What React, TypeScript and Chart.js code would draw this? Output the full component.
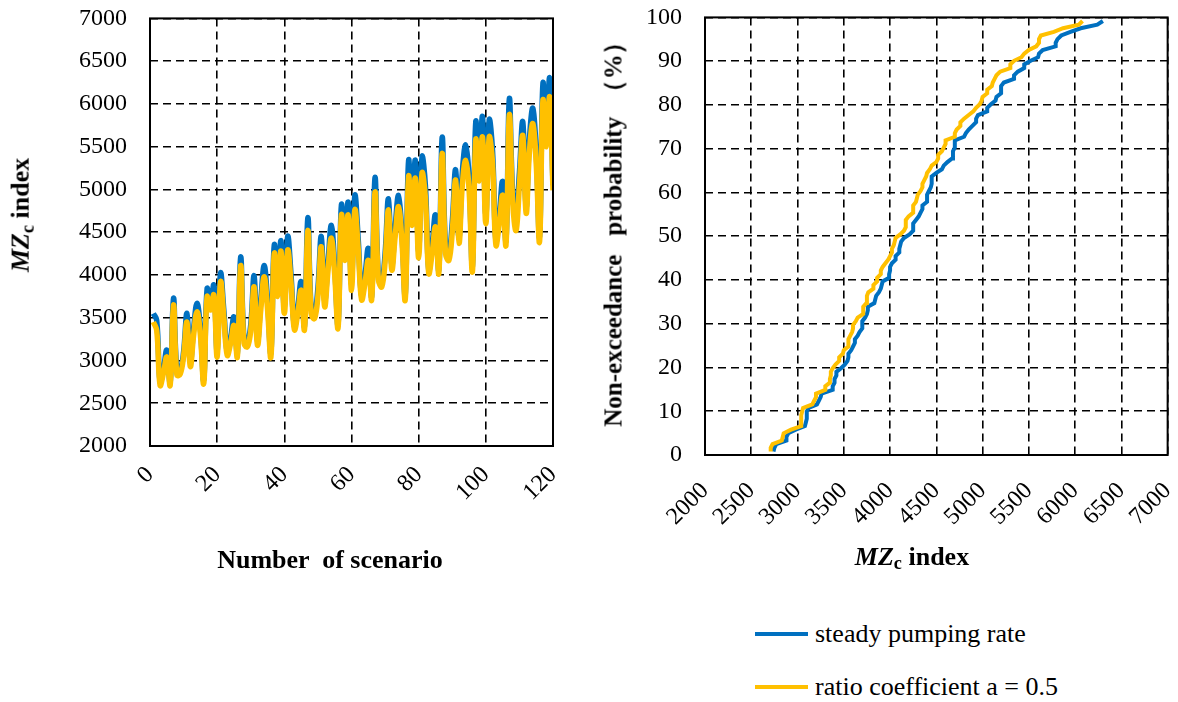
import { useEffect, useRef } from "react";
import { Chart, registerables } from "chart.js";

Chart.register(...registerables);

const BLUE = "#0070C0";
const YELLOW = "#FFC000";
const SERIF = "'Liberation Serif', 'Times New Roman', serif";

// Scenario numbers 1..120
const scenarios: number[] = Array.from({ length: 120 }, (_, i) => i + 1);

// MZc index per scenario, steady pumping rate
const steadyRate: number[] = [
  3550, 3470, 2750, 2900, 3120, 2740, 3730, 2880, 2880, 3100, 3550, 2980, 3380, 3670, 3380, 2770, 3840, 3650, 3880, 3100,
  4020, 3580, 3100, 3260, 3510, 3080, 4210, 3250, 3210, 3420, 3990, 3230, 3700, 4110, 3700, 3090, 4350, 3830, 4400, 3620,
  4450, 4000, 3400, 3620, 3920, 3400, 4670, 3600, 3540, 3850, 4450, 3700, 4150, 4580, 4100, 3420, 4820, 4250, 4850, 3900,
  4930, 4420, 3760, 3990, 4310, 3750, 5140, 4000, 3910, 4250, 4890, 4120, 4560, 4930, 4500, 3760, 5340, 4680, 5340, 4280,
  5380, 5050, 4060, 4350, 4700, 4060, 5610, 4330, 4250, 4620, 5230, 4440, 5200, 5520, 5150, 4100, 5790, 5200, 5850, 4700,
  5810, 5450, 4400, 4700, 5090, 4400, 6060, 4950, 4680, 5200, 5790, 4800, 5600, 5950, 5450, 4450, 6240, 5650, 6300, 5050,
];

// MZc index per scenario, ratio coefficient a = 0.5
const ratioHalf: number[] = [
  3450, 3350, 2710, 2850, 3040, 2710, 3650, 2830, 2840, 3050, 3450, 2930, 3300, 3570, 3300, 2730, 3745, 3590, 3765, 3040,
  3920, 3500, 3060, 3200, 3410, 3040, 4110, 3200, 3160, 3350, 3860, 3180, 3600, 3980, 3600, 3040, 4250, 3750, 4280, 3550,
  4290, 3900, 3360, 3550, 3820, 3360, 4520, 3550, 3490, 3750, 4330, 3630, 4050, 4430, 4000, 3380, 4700, 4170, 4700, 3820,
  4760, 4300, 3710, 3900, 4170, 3710, 4970, 3950, 3860, 4150, 4760, 4060, 4450, 4800, 4400, 3710, 5150, 4580, 5130, 4200,
  5190, 4900, 4020, 4250, 4560, 4020, 5420, 4250, 4170, 4500, 5110, 4370, 5050, 5340, 5000, 4040, 5580, 5100, 5610, 4600,
  5610, 5300, 4350, 4600, 4930, 4350, 5870, 4850, 4520, 5050, 5630, 4720, 5450, 5770, 5300, 4390, 6040, 5500, 6080, 4990,
];

const seriesNames = ["steady pumping rate", "ratio coefficient a = 0.5"];

// Empirical non-exceedance probability (Weibull plotting position)
function exceedanceCurve(values: number[]) {
  const sorted = [...values].sort((a, b) => a - b);
  const n = sorted.length;
  return sorted.map((v, i) => ({ x: v, y: ((i + 1) / (n + 1)) * 100 }));
}

const framePlugin = {
  id: "plotFrame",
  afterDraw(chart: any) {
    const { ctx, chartArea: a } = chart;
    ctx.save();
    ctx.setLineDash([]);
    ctx.strokeStyle = "#000";
    ctx.lineWidth = 2;
    ctx.strokeRect(a.left, a.top, a.right - a.left, a.bottom - a.top);
    ctx.restore();
  },
};

const tickFont = { family: SERIF, size: 24 };

function gridOpts() {
  return {
    color: "#000",
    lineWidth: 1.6,
    drawTicks: false,
    borderDash: [8, 5],
  };
}

function borderOpts() {
  return { display: false, dash: [8, 5] };
}

function ScenarioChart() {
  const ref = useRef<HTMLCanvasElement | null>(null);
  useEffect(() => {
    if (!ref.current) return;
    const chart = new Chart(ref.current, {
      type: "line",
      data: {
        datasets: [
          {
            label: seriesNames[0],
            data: scenarios.map((s, i) => ({ x: s, y: steadyRate[i] })),
            borderColor: BLUE,
            borderWidth: 5.5,
            pointRadius: 0,
            tension: 0.4,
            fill: false,
            order: 1,
          },
          {
            label: seriesNames[1],
            data: scenarios.map((s, i) => ({ x: s, y: ratioHalf[i] })),
            borderColor: YELLOW,
            borderWidth: 5.5,
            pointRadius: 0,
            tension: 0.4,
            fill: false,
            order: 0,
          },
        ],
      },
      options: {
        responsive: false,
        animation: false,
        events: [],
        layout: { padding: { top: 0, right: 37, left: 0, bottom: 0 } },
        plugins: { legend: { display: false }, tooltip: { enabled: false } },
        scales: {
          x: {
            type: "linear",
            min: 0,
            max: 120,
            ticks: {
              stepSize: 20,
              minRotation: 45,
              maxRotation: 45,
              padding: 15,
              color: "#000",
              font: tickFont,
              callback: (v: any) => String(v),
            },
            grid: gridOpts(),
            border: borderOpts(),
            afterFit: (s: any) => {
              s.height = 135;
            },
          },
          y: {
            type: "linear",
            min: 2000,
            max: 7000,
            ticks: {
              stepSize: 500,
              padding: 23,
              color: "#000",
              font: tickFont,
              callback: (v: any) => String(v),
            },
            grid: gridOpts(),
            border: borderOpts(),
            afterFit: (s: any) => {
              s.width = 150;
            },
          },
        },
      } as any,
      plugins: [framePlugin],
    });
    return () => chart.destroy();
  }, []);
  return (
    <canvas
      ref={ref}
      width={590}
      height={600}
      style={{ position: "absolute", left: 0, top: -19, width: 590, height: 600 }}
    />
  );
}

function ProbabilityChart() {
  const ref = useRef<HTMLCanvasElement | null>(null);
  useEffect(() => {
    if (!ref.current) return;
    const chart = new Chart(ref.current, {
      type: "line",
      data: {
        datasets: [
          {
            label: seriesNames[0],
            data: exceedanceCurve(steadyRate),
            borderColor: BLUE,
            borderWidth: 4,
            pointRadius: 0,
            tension: 0,
            fill: false,
            order: 1,
          },
          {
            label: seriesNames[1],
            data: exceedanceCurve(ratioHalf),
            borderColor: YELLOW,
            borderWidth: 4,
            pointRadius: 0,
            tension: 0,
            fill: false,
            order: 0,
          },
        ],
      },
      options: {
        responsive: false,
        animation: false,
        events: [],
        layout: { padding: { top: 0, right: 37, left: 0, bottom: 0 } },
        plugins: { legend: { display: false }, tooltip: { enabled: false } },
        scales: {
          x: {
            type: "linear",
            min: 2000,
            max: 7000,
            ticks: {
              stepSize: 500,
              minRotation: 45,
              maxRotation: 45,
              padding: 22,
              color: "#000",
              font: tickFont,
              callback: (v: any) => String(v),
            },
            grid: gridOpts(),
            border: borderOpts(),
            afterFit: (s: any) => {
              s.height = 125;
            },
          },
          y: {
            type: "linear",
            min: 0,
            max: 100,
            ticks: {
              stepSize: 10,
              padding: 23,
              color: "#000",
              font: tickFont,
              callback: (v: any) => String(v),
            },
            grid: gridOpts(),
            border: borderOpts(),
            afterFit: (s: any) => {
              s.width = 115;
            },
          },
        },
      } as any,
      plugins: [framePlugin],
    });
    return () => chart.destroy();
  }, []);
  return (
    <canvas
      ref={ref}
      width={620}
      height={600}
      style={{ position: "absolute", left: 590, top: -20, width: 620, height: 600 }}
    />
  );
}

const titleStyle: React.CSSProperties = {
  position: "absolute",
  fontFamily: SERIF,
  fontWeight: "bold",
  fontSize: 26,
  color: "#000",
  whiteSpace: "pre",
  lineHeight: 1,
};

function MZcLabel() {
  return (
    <>
      <i>MZ</i>
      <sub style={{ fontSize: "0.7em", verticalAlign: "-0.25em" }}>c</sub> index
    </>
  );
}

export default function App() {
  return (
    <div
      style={{
        position: "absolute",
        left: 0,
        top: 0,
        width: 1178,
        height: 702,
        overflow: "hidden",
        background: "#fff",
      }}
    >
      <ScenarioChart />
      <ProbabilityChart />

      <div style={{ ...titleStyle, left: 22, top: 215, transform: "translate(-50%, -50%) rotate(-90deg)" }}>
        <MZcLabel />
      </div>
      <div style={{ ...titleStyle, left: 330, top: 560, transform: "translate(-50%, -50%)" }}>
        {"Number  of scenario"}
      </div>
      <div style={{ ...titleStyle, fontSize: 25, left: 613, top: 228, transform: "translate(-50%, -50%) rotate(-90deg)" }}>
        {"Non-exceedance   probability  （%）"}
      </div>
      <div style={{ ...titleStyle, left: 912, top: 558, transform: "translate(-50%, -50%)" }}>
        <MZcLabel />
      </div>

      {[BLUE, YELLOW].map((c, i) => (
        <div key={c}>
          <div
            style={{
              position: "absolute",
              left: 755,
              top: 632 + i * 53,
              width: 53,
              height: 4,
              background: c,
            }}
          />
          <div
            style={{
              position: "absolute",
              left: 815,
              top: 634 + i * 53,
              transform: "translateY(-50%)",
              fontFamily: SERIF,
              fontSize: 26,
              lineHeight: 1,
              color: "#000",
              whiteSpace: "pre",
            }}
          >
            {seriesNames[i]}
          </div>
        </div>
      ))}
    </div>
  );
}
